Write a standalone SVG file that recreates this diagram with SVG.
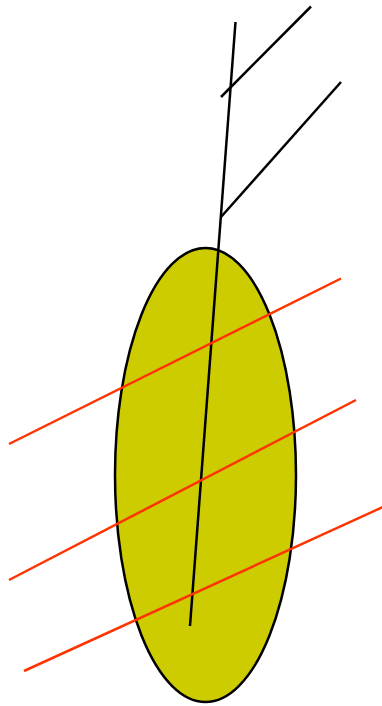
<svg xmlns="http://www.w3.org/2000/svg" width="382" height="706" viewBox="0 0 382 706">
<style>
.blk{stroke:#000;stroke-width:2.5;fill:none;stroke-linecap:butt}
.red{stroke:#FF3300;stroke-width:2.5;fill:none}
</style>
<rect width="382" height="706" fill="#fff"/>
<g id="body">
<ellipse cx="205.5" cy="475" rx="90.5" ry="227" fill="#CCCC00" stroke="#000" stroke-width="2.5"/>
</g>
<g id="connectors">
<line class="blk" x1="235.5" y1="22" x2="190" y2="626"/>
<line class="blk" x1="221" y1="97" x2="311" y2="6.5"/>
<line class="blk" x1="221" y1="217" x2="341" y2="82"/>
<line class="red" x1="9" y1="444" x2="341" y2="278.5"/>
<line class="red" x1="9" y1="580" x2="356" y2="400"/>
<line class="red" x1="24" y1="671" x2="383" y2="507"/>
</g>
</svg>
